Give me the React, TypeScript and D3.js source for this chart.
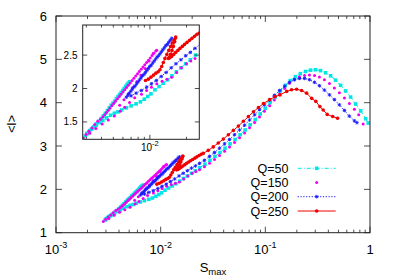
import React from "react";
import * as d3 from "d3";

type P = [number, number];

// Q=50 (cyan squares, dash-dot line), ordered along the curve
const q50Data: P[] = [
  [0.00682, 2.1], [0.00665, 2.08], [0.0065, 2.06], [0.00632, 2.03], [0.00615, 2.0], [0.00598, 1.97],
  [0.0058, 1.94], [0.00563, 1.91], [0.00547, 1.88], [0.0053, 1.85], [0.00513, 1.81], [0.00497, 1.78],
  [0.0048, 1.75], [0.00463, 1.71], [0.00447, 1.67], [0.0043, 1.63], [0.00413, 1.59], [0.00397, 1.55],
  [0.0038, 1.51], [0.00363, 1.47], [0.00347, 1.43], [0.0033, 1.39], [0.00315, 1.35], [0.00302, 1.32],
  [0.00294, 1.29],
  [0.00305, 1.33], [0.0032, 1.37], [0.0034, 1.41], [0.00362, 1.45], [0.00385, 1.49], [0.0041, 1.52],
  [0.0044, 1.56], [0.00475, 1.6], [0.0051, 1.63], [0.00545, 1.65], [0.00585, 1.68], [0.0064, 1.71],
  [0.007, 1.74], [0.0077, 1.77], [0.00835, 1.8], [0.009, 1.84], [0.0096, 1.88], [0.0102, 1.92],
  [0.011, 1.98], [0.0119, 2.03], [0.0129, 2.08], [0.014, 2.13], [0.0152, 2.19], [0.0165, 2.25],
  [0.018, 2.31], [0.0197, 2.37], [0.0215, 2.43],
  [0.0237, 2.5], [0.0265, 2.58], [0.0296, 2.67], [0.033, 2.76], [0.0369, 2.85], [0.0412, 2.95],
  [0.046, 3.05], [0.0514, 3.15], [0.0574, 3.26], [0.0641, 3.37], [0.0716, 3.49], [0.08, 3.61],
  [0.0893, 3.74], [0.0998, 3.87], [0.111, 4.0], [0.124, 4.13], [0.139, 4.27], [0.155, 4.4],
  [0.173, 4.51], [0.194, 4.6], [0.216, 4.67], [0.242, 4.72], [0.27, 4.75], [0.301, 4.76],
  [0.337, 4.74], [0.376, 4.69], [0.42, 4.62], [0.469, 4.52], [0.524, 4.4], [0.585, 4.27],
  [0.653, 4.13], [0.729, 3.97], [0.815, 3.81], [0.91, 3.63], [0.962, 3.53],
];

// Q=150 (magenta dots, points only)
const q150Data: P[] = [
  [0.00283, 1.26], [0.00298, 1.31], [0.00315, 1.36], [0.00333, 1.41], [0.00352, 1.46], [0.00372, 1.51],
  [0.00392, 1.54],
  [0.0041, 1.574], [0.00425, 1.608], [0.0044, 1.642], [0.00455, 1.676], [0.00471, 1.71], [0.00488, 1.744],
  [0.00505, 1.778], [0.00522, 1.812], [0.00541, 1.846], [0.0056, 1.88], [0.00579, 1.914], [0.006, 1.948],
  [0.00621, 1.982], [0.00643, 2.016], [0.00665, 2.05], [0.00689, 2.084], [0.00713, 2.118], [0.00738, 2.152],
  [0.00764, 2.186], [0.00791, 2.22], [0.00818, 2.254], [0.00847, 2.288], [0.00877, 2.322], [0.00908, 2.356],
  [0.0094, 2.39], [0.00973, 2.424], [0.01007, 2.458], [0.01042, 2.492], [0.01079, 2.526], [0.01117, 2.56],
  [0.01138, 2.574],
  [0.00564, 1.75], [0.00612, 1.83], [0.00665, 1.92], [0.0072, 2.01], [0.0078, 2.1], [0.00845, 2.2],
  [0.00915, 2.3], [0.00985, 2.41], [0.01064, 2.525],
  [0.0032, 1.33], [0.0036, 1.4], [0.00405, 1.47], [0.00455, 1.53], [0.0051, 1.59], [0.0057, 1.66],
  [0.0062, 1.72], [0.0068, 1.79], [0.0075, 1.86], [0.00853, 1.915], [0.0094, 1.97], [0.0103, 2.02],
  [0.0114, 2.07], [0.0126, 2.11], [0.0138, 2.14], [0.0151, 2.17], [0.0166, 2.24], [0.0182, 2.31],
  [0.02, 2.37], [0.0217, 2.41],
  [0.0235, 2.45], [0.0262, 2.52], [0.0293, 2.6], [0.0327, 2.69], [0.0365, 2.78], [0.0408, 2.88],
  [0.0455, 2.98], [0.0508, 3.08], [0.0567, 3.19], [0.0633, 3.3], [0.0707, 3.42], [0.079, 3.54],
  [0.088, 3.67], [0.098, 3.8], [0.11, 3.93], [0.122, 4.06], [0.137, 4.2], [0.153, 4.33],
  [0.17, 4.45], [0.19, 4.54], [0.212, 4.6], [0.237, 4.63], [0.264, 4.64], [0.295, 4.63],
  [0.329, 4.59], [0.367, 4.53], [0.41, 4.44], [0.457, 4.34], [0.51, 4.23], [0.57, 4.11],
  [0.635, 3.98], [0.71, 3.85], [0.78, 3.72], [0.86, 3.51],
];

// Q=200 (blue stars, dotted line), ordered
const q200Data: P[] = [
  [0.0151, 2.75], [0.01469, 2.72], [0.01429, 2.69], [0.0139, 2.66], [0.01352, 2.64], [0.01315, 2.61],
  [0.01279, 2.58], [0.01245, 2.55], [0.01211, 2.52], [0.01178, 2.49], [0.01146, 2.47], [0.01114, 2.44],
  [0.01084, 2.41], [0.01054, 2.38], [0.01026, 2.35], [0.00998, 2.33], [0.00971, 2.3], [0.00944, 2.27],
  [0.00918, 2.24], [0.00893, 2.21], [0.00869, 2.19], [0.00845, 2.16], [0.00822, 2.13], [0.008, 2.1],
  [0.00778, 2.07], [0.00757, 2.04], [0.00736, 2.02], [0.00716, 1.99], [0.00697, 1.96], [0.00678, 1.93],
  [0.00659, 1.9], [0.0064, 1.87],
  [0.007, 1.89], [0.0077, 1.93], [0.0085, 1.97], [0.0094, 2.02], [0.0103, 2.07], [0.0113, 2.12],
  [0.0124, 2.18], [0.0136, 2.24], [0.015, 2.31], [0.0164, 2.37], [0.018, 2.43], [0.0197, 2.49],
  [0.0215, 2.54],
  [0.0235, 2.6], [0.0262, 2.67], [0.0293, 2.76], [0.0327, 2.85], [0.0365, 2.95], [0.0408, 3.05],
  [0.0455, 3.15], [0.0508, 3.26], [0.0567, 3.37], [0.0633, 3.48], [0.0707, 3.6], [0.079, 3.72],
  [0.088, 3.84], [0.098, 3.95], [0.11, 4.06], [0.122, 4.17], [0.137, 4.28], [0.153, 4.38],
  [0.17, 4.47], [0.19, 4.53], [0.212, 4.56], [0.237, 4.56], [0.264, 4.53], [0.295, 4.47],
  [0.329, 4.39], [0.367, 4.29], [0.41, 4.18], [0.457, 4.07], [0.51, 3.95], [0.57, 3.82],
  [0.635, 3.69], [0.71, 3.58], [0.75, 3.54],
];

// Q=250 (red circles, solid line), ordered
const q250Data: P[] = [
  [0.0092, 2.12], [0.0097, 2.14], [0.0102, 2.17], [0.0107, 2.2], [0.0112, 2.23], [0.0117, 2.25],
  [0.0121, 2.28], [0.0125, 2.33], [0.0129, 2.39], [0.0133, 2.45], [0.0138, 2.51], [0.0143, 2.57],
  [0.0148, 2.63], [0.0153, 2.68], [0.0158, 2.72], [0.0162, 2.75], [0.0163, 2.77],
  [0.016, 2.7], [0.0156, 2.63], [0.0152, 2.57], [0.0148, 2.51], [0.0145, 2.47], [0.0142, 2.45],
  [0.0146, 2.46], [0.0151, 2.48], [0.0157, 2.51], [0.0163, 2.54], [0.017, 2.57], [0.0177, 2.6],
  [0.0185, 2.63], [0.0193, 2.66], [0.0202, 2.69], [0.0212, 2.72], [0.0222, 2.75], [0.0233, 2.78],
  [0.0244, 2.81], [0.0255, 2.83],
  [0.0285, 2.9], [0.0318, 2.98], [0.0355, 3.07], [0.0397, 3.16], [0.0443, 3.26], [0.0495, 3.36],
  [0.0553, 3.46], [0.0617, 3.57], [0.0689, 3.68], [0.077, 3.79], [0.086, 3.89], [0.096, 3.98],
  [0.11, 4.07], [0.124, 4.14], [0.138, 4.18], [0.16, 4.26], [0.178, 4.3], [0.199, 4.31],
  [0.222, 4.28], [0.248, 4.22], [0.277, 4.1], [0.304, 4.03], [0.332, 3.91], [0.357, 3.83],
  [0.39, 3.73], [0.44, 3.68], [0.49, 3.64],
];

const seriesNames = ["Q=50", "Q=150", "Q=200", "Q=250"];
const seriesColors = ["#00e6e6", "#f000f0", "#1a1aff", "#f00000"];
const seriesMarkers = ["square", "dot", "star", "circle"];
const seriesDash = ["4,2,1,2", "none", "1.2,1.6", ""];

const mainYTicks = [1, 2, 3, 4, 5, 6];
const mainXMajor = [0.001, 0.01, 0.1, 1];
const mainXLabels = [["10", "-3"], ["10", "-2"], ["10", "-1"], ["1", ""]];
const insetYTicks = [1.5, 2, 2.5];
const insetYLabels = ["1.5", "2", "2.5"];
const insetXMajor = [0.01];
const insetXLabels = [["10", "-2"]];

const FONT = "Liberation Sans, Arial, Helvetica, sans-serif";

function Marker({ kind, x, y, color }: { kind: string; x: number; y: number; color: string }) {
  if (kind === "square") return <rect x={x - 1.8} y={y - 1.8} width={3.6} height={3.6} fill={color} />;
  if (kind === "dot") return <circle cx={x} cy={y} r={1.5} fill={color} />;
  if (kind === "circle") return <circle cx={x} cy={y} r={1.8} fill={color} />;
  const s = 1.8;
  return (
    <g stroke={color} strokeWidth={0.9}>
      <line x1={x - s} y1={y} x2={x + s} y2={y} />
      <line x1={x} y1={y - s} x2={x} y2={y + s} />
      <line x1={x - s * 0.75} y1={y - s * 0.75} x2={x + s * 0.75} y2={y + s * 0.75} />
      <line x1={x - s * 0.75} y1={y + s * 0.75} x2={x + s * 0.75} y2={y - s * 0.75} />
    </g>
  );
}

function Series({ data, i, sx, sy }: { data: P[]; i: number; sx: any; sy: any }) {
  const line = d3.line<P>().x((d) => sx(d[0])).y((d) => sy(d[1]));
  const dash = seriesDash[i];
  return (
    <g>
      {dash !== "none" && (
        <path d={line(data) || ""} fill="none" stroke={seriesColors[i]} strokeWidth={1}
          strokeDasharray={dash || undefined} />
      )}
      {data.map((d, k) => (
        <Marker key={k} kind={seriesMarkers[i]} x={sx(d[0])} y={sy(d[1])} color={seriesColors[i]} />
      ))}
    </g>
  );
}

function minorTicks(lo: number, hi: number) {
  const out: number[] = [];
  for (let e = -4; e <= 0; e++) {
    for (let k = 2; k <= 9; k++) {
      const v = k * Math.pow(10, e);
      if (v > lo * 1.0001 && v < hi * 0.9999) out.push(v);
    }
  }
  return out;
}

export default function App() {
  const W = 395, H = 276;
  const mL = 56, mR = 370, mT = 16, mB = 232.7;
  const sx = d3.scaleLog().domain([0.001, 1]).range([mL, mR]);
  const sy = d3.scaleLinear().domain([1, 6]).range([mB, mT]);

  const iL = 82.7, iR = 199.3, iT = 25, iB = 139.3;
  const ix = d3.scaleLog().domain([0.0028, 0.0255]).range([iL, iR]);
  const iy = d3.scaleLinear().domain([1.24, 2.95]).range([iB, iT]);

  const all = [q50Data, q150Data, q200Data, q250Data];
  const mainMinor = minorTicks(0.001, 1);
  const insetMinor = minorTicks(0.0028, 0.0255);
  const axisColor = "#222";

  const legendY = [168.3, 182.5, 196.7, 211];

  return (
    <svg width={W} height={H} style={{ display: "block", position: "absolute", left: 0, top: 0 }}
      fontFamily={FONT}>
      <rect x={0} y={0} width={W} height={H} fill="#fff" />
      <defs>
        <clipPath id="insetClip">
          <rect x={iL} y={iT} width={iR - iL} height={iB - iT} />
        </clipPath>
      </defs>

      {/* main ticks */}
      <g stroke={axisColor} strokeWidth={0.8}>
        {mainYTicks.map((t) => (
          <g key={"y" + t}>
            <line x1={mL} x2={mL + 6} y1={sy(t)} y2={sy(t)} />
            <line x1={mR} x2={mR - 6} y1={sy(t)} y2={sy(t)} />
          </g>
        ))}
        {mainXMajor.map((t) => (
          <g key={"x" + t}>
            <line x1={sx(t)} x2={sx(t)} y1={mB} y2={mB - 6} />
            <line x1={sx(t)} x2={sx(t)} y1={mT} y2={mT + 6} />
          </g>
        ))}
        {mainMinor.map((t) => (
          <g key={"m" + t}>
            <line x1={sx(t)} x2={sx(t)} y1={mB} y2={mB - 3} />
            <line x1={sx(t)} x2={sx(t)} y1={mT} y2={mT + 3} />
          </g>
        ))}
      </g>
      <g fontSize={13} fill="#000">
        {mainYTicks.map((t) => (
          <text key={"yl" + t} x={47} y={sy(t) + 4.7} textAnchor="end">{t}</text>
        ))}
        {mainXMajor.map((t, k) => (
          <text key={"xl" + t} x={sx(t)} y={254} textAnchor="middle">
            {mainXLabels[k][0]}
            {mainXLabels[k][1] && <tspan fontSize={9} dy={-6}>{mainXLabels[k][1]}</tspan>}
          </text>
        ))}
        <text x={213} y={272} textAnchor="middle">
          S<tspan fontSize={9.5} dy={3}>max</tspan>
        </text>
        <text transform="translate(16,124) rotate(-90)" textAnchor="middle">&lt;l&gt;</text>
      </g>

      {/* main data */}
      {all.map((d, i) => <Series key={i} data={d} i={i} sx={sx} sy={sy} />)}

      {/* legend */}
      <g fontSize={12.5}>
        {seriesNames.map((n, i) => (
          <g key={n}>
            <text x={288.5} y={legendY[i] + 4.5} textAnchor="end">{n}</text>
            {seriesDash[i] !== "none" && (
              <line x1={297.7} x2={335.7} y1={legendY[i]} y2={legendY[i]} stroke={seriesColors[i]}
                strokeWidth={1} strokeDasharray={seriesDash[i] || undefined} />
            )}
            <Marker kind={seriesMarkers[i]} x={316.7} y={legendY[i]} color={seriesColors[i]} />
          </g>
        ))}
      </g>

      <rect x={mL} y={mT} width={mR - mL} height={mB - mT} fill="none" stroke={axisColor} strokeWidth={1} />

      {/* inset */}
      <rect x={iL} y={iT} width={iR - iL} height={iB - iT} fill="#fff" />
      <g clipPath="url(#insetClip)">
        {all.map((d, i) => <Series key={i} data={d} i={i} sx={ix} sy={iy} />)}
      </g>
      <g stroke={axisColor} strokeWidth={0.8}>
        {insetYTicks.map((t) => (
          <g key={"iy" + t}>
            <line x1={iL} x2={iL + 4.5} y1={iy(t)} y2={iy(t)} />
            <line x1={iR} x2={iR - 4.5} y1={iy(t)} y2={iy(t)} />
          </g>
        ))}
        {insetXMajor.map((t) => (
          <g key={"ix" + t}>
            <line x1={ix(t)} x2={ix(t)} y1={iB} y2={iB - 4.5} />
            <line x1={ix(t)} x2={ix(t)} y1={iT} y2={iT + 4.5} />
          </g>
        ))}
        {insetMinor.map((t) => (
          <g key={"im" + t}>
            <line x1={ix(t)} x2={ix(t)} y1={iB} y2={iB - 2.5} />
            <line x1={ix(t)} x2={ix(t)} y1={iT} y2={iT + 2.5} />
          </g>
        ))}
      </g>
      <g fontSize={10} fill="#000">
        {insetYTicks.map((t, k) => (
          <text key={"iyl" + t} x={77.5} y={iy(t) + 3.5} textAnchor="end">{insetYLabels[k]}</text>
        ))}
        {insetXMajor.map((t, k) => (
          <text key={"ixl" + t} x={ix(t)} y={150.5} textAnchor="middle">
            {insetXLabels[k][0]}
            <tspan fontSize={7.5} dy={-4.5}>{insetXLabels[k][1]}</tspan>
          </text>
        ))}
      </g>
      <rect x={iL} y={iT} width={iR - iL} height={iB - iT} fill="none" stroke={axisColor} strokeWidth={1} />
    </svg>
  );
}
